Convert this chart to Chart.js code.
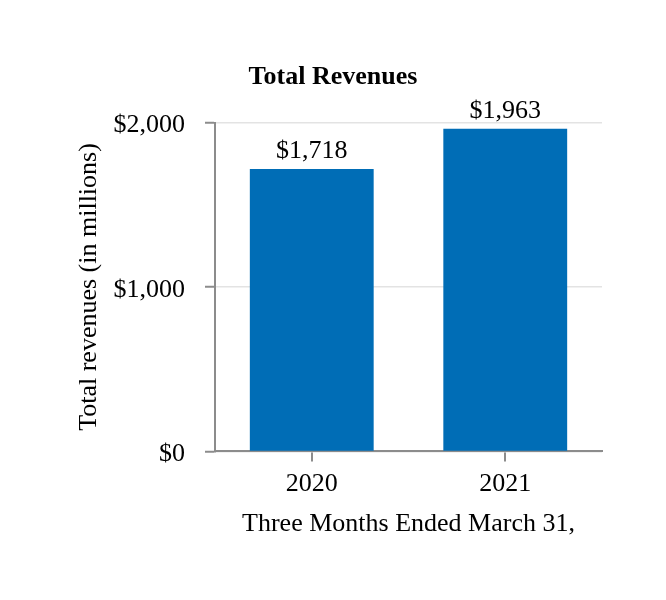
<!DOCTYPE html>
<html>
<head>
<meta charset="utf-8">
<script src="https://cdn.jsdelivr.net/npm/chart.js@4"></script>
<style>
  html, body { margin: 0; padding: 0; background: #ffffff; }
  #wrap { width: 666px; height: 600px; position: relative; }
</style>
</head>
<body>
<div id="wrap"><canvas id="c" width="666" height="600"></canvas></div>
<script>
const categories = ['2020', '2021'];
const revenues = [1718, 1963];
const yTicks = [0, 1000, 2000];

const FONT = '"Liberation Serif", "Times New Roman", serif';
const fmt = v => '$' + Number(v).toLocaleString('en-US');

const valueLabels = {
  id: 'valueLabels',
  afterDatasetsDraw(chart) {
    const ctx = chart.ctx;
    const meta = chart.getDatasetMeta(0);
    ctx.save();
    ctx.font = '26px ' + FONT;
    ctx.fillStyle = '#000000';
    ctx.textAlign = 'center';
    ctx.textBaseline = 'alphabetic';
    meta.data.forEach((bar, i) => {
      ctx.fillText(fmt(chart.data.datasets[0].data[i]), bar.x, bar.y - 11);
    });
    ctx.restore();
  }
};

new Chart(document.getElementById('c'), {
  type: 'bar',
  data: {
    labels: categories,
    datasets: [{
      data: revenues,
      backgroundColor: '#006db6',
      borderWidth: 0,
      barPercentage: 0.64,
      categoryPercentage: 1.0
    }]
  },
  options: {
    responsive: false,
    animation: false,
    devicePixelRatio: 1,
    layout: { padding: { left: 64, right: 64, top: 0, bottom: 60 } },
    plugins: {
      legend: { display: false },
      tooltip: { enabled: false },
      title: {
        display: true,
        text: 'Total Revenues',
        color: '#000000',
        font: { family: FONT, size: 26, weight: 'bold' },
        padding: { top: 62, bottom: 29.4 }
      }
    },
    scales: {
      x: {
        afterFit(scale) { scale.height = 88.6; },
        grid: {
          display: true,
          drawOnChartArea: false,
          drawTicks: true,
          tickLength: 10,
          offset: false,
          tickColor: '#8c8c8c',
          lineWidth: 2
        },
        border: { display: true, color: '#8c8c8c', width: 2 },
        ticks: {
          color: '#000000',
          font: { family: FONT, size: 26 },
          padding: 7,
          maxRotation: 0
        },
        title: {
          display: true,
          text: 'Three Months Ended March 31,',
          color: '#000000',
          font: { family: FONT, size: 26 },
          padding: { top: 0, bottom: 0 }
        }
      },
      y: {
        min: 0,
        max: 2000,
        afterFit(scale) { scale.width = 151; },
        afterBuildTicks(scale) { scale.ticks = yTicks.map(v => ({ value: v })); },
        grid: {
          color: '#e3e3e3',
          lineWidth: 1.5,
          drawTicks: true,
          tickLength: 10,
          tickColor: '#8c8c8c',
          tickWidth: 2
        },
        border: { display: true, color: '#8c8c8c', width: 2 },
        ticks: {
          color: '#000000',
          font: { family: FONT, size: 26 },
          padding: 20,
          labelOffset: 3,
          callback: v => fmt(v)
        },
        title: {
          display: true,
          text: 'Total revenues (in millions)',
          color: '#000000',
          font: { family: FONT, size: 26 },
          padding: { top: 10, bottom: 0 }
        }
      }
    }
  },
  plugins: [valueLabels]
});
</script>
</body>
</html>
